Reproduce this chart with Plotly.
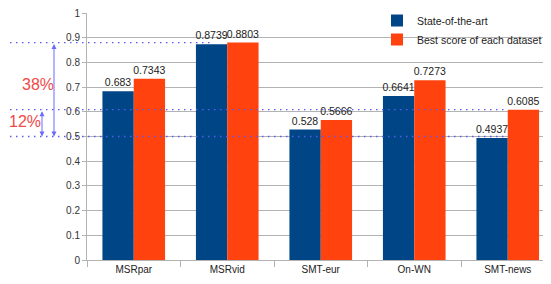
import plotly.graph_objects as go

categories = ["MSRpar", "MSRvid", "SMT-eur", "On-WN", "SMT-news"]
state_of_art = [0.683, 0.8739, 0.528, 0.6641, 0.4937]
best_score = [0.7343, 0.8803, 0.5666, 0.7273, 0.6085]
y_ticks = [0, 0.1, 0.2, 0.3, 0.4, 0.5, 0.6, 0.7, 0.8, 0.9, 1]
ref_levels = [0.8803, 0.6085, 0.5]
gap_labels = ["38%", "12%"]

FONT = "Liberation Sans, Arial, sans-serif"
BLUE = "#004586"
ORANGE = "#ff420e"
LINEBLUE = "#5a5af0"

fig = go.Figure()
for name, vals, col in [("State-of-the-art", state_of_art, BLUE),
                        ("Best score of each dataset", best_score, ORANGE)]:
    fig.add_trace(go.Bar(
        x=categories, y=vals, name=name,
        marker=dict(color=col, line=dict(width=0)),
        text=[str(v) for v in vals], textposition="outside",
        constraintext="none", textangle=0,
        textfont=dict(family=FONT, size=10.5, color="#222"), cliponaxis=False,
    ))

# page body has an 8px margin: size the figure so it ends at the window edge
OFF = 8
W, H = 551 - OFF, 284 - OFF
L, T, B = 87 - OFF, 13 - OFF, 24
plot_w = W - L
plot_h = H - T - B
cat_w = 93.5
x_max = -0.5 + plot_w / cat_w

def px2paper(px):  # window px -> paper x
    return (px - OFF - L) / plot_w

def py2paper(py):  # window px -> paper y
    return (H - B - (py - OFF)) / plot_h

shapes = []
line_ends = [210, 507, 505]
for lvl, xe in zip(ref_levels, line_ends):
    shapes.append(dict(type="line", xref="paper", yref="y",
                       x0=px2paper(10), x1=px2paper(xe), y0=lvl, y1=lvl,
                       line=dict(color=LINEBLUE, width=1.3, dash="1.5px,4.5px"),
                       layer="above"))

annotations = []
for xpx, ytop in [(54, ref_levels[0]), (42, ref_levels[1])]:
    annotations.append(dict(
        xref="paper", yref="y", x=px2paper(xpx), y=ref_levels[2],
        axref="pixel", ayref="y", ax=0, ay=ytop,
        text="", showarrow=True, arrowhead=2, startarrowhead=2,
        arrowside="end+start", arrowsize=1, startarrowsize=1,
        arrowwidth=1, arrowcolor="#6b6bff"))
for lab, xpx, ypx in [(gap_labels[0], 38, 84), (gap_labels[1], 25, 122)]:
    annotations.append(dict(
        xref="paper", yref="paper", x=px2paper(xpx), y=py2paper(ypx),
        text=lab, showarrow=False, xanchor="center", yanchor="middle",
        font=dict(family=FONT, size=16, color="#f04848")))

fig.update_layout(
    width=W, height=H,
    margin=dict(l=L, r=0, t=T, b=B, pad=0, autoexpand=False),
    paper_bgcolor="white", plot_bgcolor="white",
    barmode="group", bargap=0.33, bargroupgap=0,
    font=dict(family=FONT, size=10, color="#333"),
    showlegend=True,
    legend=dict(x=px2paper(377), y=py2paper(6), xanchor="left", yanchor="top",
                font=dict(family=FONT, size=10.5, color="#222"),
                bgcolor="rgba(0,0,0,0)", itemwidth=30, tracegroupgap=4),
    shapes=shapes, annotations=annotations,
)
fig.update_xaxes(range=[-0.5, x_max], showline=True, linecolor="#b3b3b3",
                 ticks="outside", tickson="boundaries", ticklen=6, tickcolor="#b3b3b3",
                 tickfont=dict(family=FONT, size=10, color="#222"), showgrid=False)
fig.update_yaxes(range=[0, 1], tickvals=y_ticks, showline=True, linecolor="#b3b3b3",
                 ticks="outside", ticklen=4, tickcolor="#b3b3b3",
                 gridcolor="#b3b3b3", gridwidth=1, zeroline=False,
                 ticklabeloverflow="allow",
                 tickfont=dict(family=FONT, size=10, color="#333"))

fig.write_html("out.html")
